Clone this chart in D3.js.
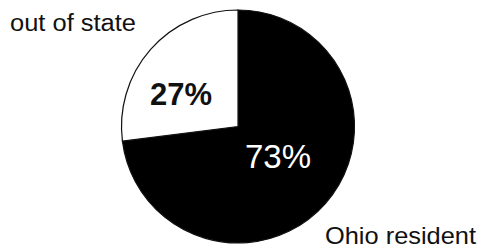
<!DOCTYPE html>
<html lang="en">

<head>
    <meta charset="UTF-8">
    <style type="text/css">
        body { margin: 0; background: #fff; }
        text { font-family: "Liberation Sans", Arial, Helvetica, sans-serif; }
    </style>
</head>

<body>
    <div id="chart"></div>
    <script src="https://cdn.jsdelivr.net/npm/d3@7"></script>
    <script type="text/javascript">

        // data
        var groups = ["Ohio resident", "out of state"];
        var shares = [73, 27];
        var pctLabels = ["73%", "27%"];

        var width = 478, height = 249;
        var cx = 238, cy = 126.5, radius = 116.5;

        var svg = d3.select("#chart")
            .append("svg")
            .attr("width", width)
            .attr("height", height);

        var g = svg.append("g")
            .attr("transform", "translate(" + cx + "," + cy + ")");

        // clockwise from 12 o'clock, Ohio first
        var pie = d3.pie().sort(null).value(function (d) { return d; });
        var arcs = pie(shares);

        var arc = d3.arc().innerRadius(0).outerRadius(radius);

        var fills = ["#000", "#fff"];

        g.selectAll(".slice")
            .data(arcs)
            .enter()
            .append("path")
            .attr("class", "slice")
            .attr("d", arc)
            .style("fill", function (d, i) { return fills[i]; })
            .style("stroke", "#111")
            .style("stroke-width", 1.2);

        // percentage labels inside the slices
        var pctPos = [[40, 41], [-57, -22]];
        var pctStyle = [
            { size: 33, weight: "normal", color: "#fff" },
            { size: 31, weight: "bold", color: "#111" }
        ];

        g.selectAll(".pct")
            .data(pctLabels)
            .enter()
            .append("text")
            .attr("class", "pct")
            .attr("x", function (d, i) { return pctPos[i][0]; })
            .attr("y", function (d, i) { return pctPos[i][1]; })
            .style("text-anchor", "middle")
            .style("font-size", function (d, i) { return pctStyle[i].size + "px"; })
            .style("font-weight", function (d, i) { return pctStyle[i].weight; })
            .style("fill", function (d, i) { return pctStyle[i].color; })
            .text(function (d) { return d; });

        // category names outside the pie: x, baseline, width, size
        var namePos = [[325, 244, 151, 24], [10, 31, 126, 23]];

        svg.selectAll(".name")
            .data(groups)
            .enter()
            .append("text")
            .attr("class", "name")
            .attr("x", function (d, i) { return namePos[i][0]; })
            .attr("y", function (d, i) { return namePos[i][1]; })
            .attr("textLength", function (d, i) { return namePos[i][2]; })
            .attr("lengthAdjust", "spacingAndGlyphs")
            .style("font-size", function (d, i) { return namePos[i][3] + "px"; })
            .style("fill", "#111")
            .text(function (d) { return d; });

    </script>
</body>

</html>
